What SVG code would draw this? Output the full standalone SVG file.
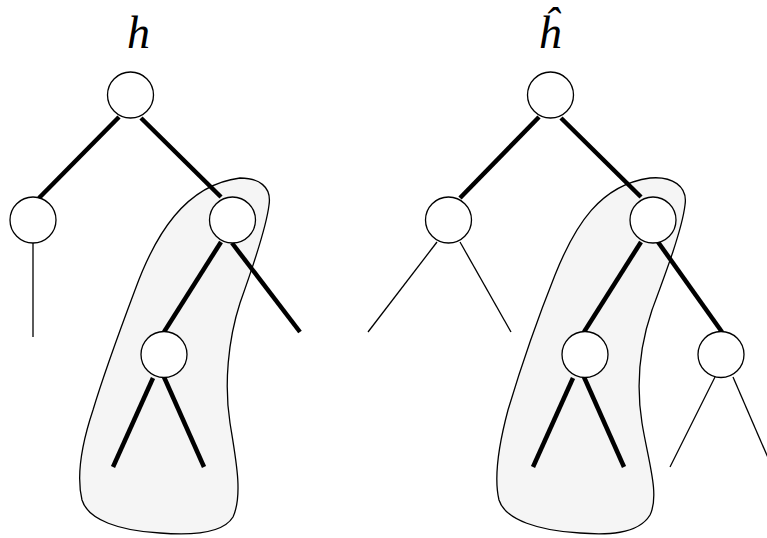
<svg xmlns="http://www.w3.org/2000/svg" width="767" height="538" viewBox="0 0 767 538">
<style>
.blob{fill:#f5f5f5;stroke:#000;stroke-width:1.3}
.node{fill:#fff;stroke:#000;stroke-width:1.3}
.thick{stroke:#000;stroke-width:4.5;fill:none}
.thin{stroke:#000;stroke-width:1.3;fill:none}
.lbl{font-family:"Liberation Serif","DejaVu Serif",serif;font-style:italic;font-size:46px;fill:#000}
</style>
<rect width="767" height="538" fill="#fff"/>
<g id="blob-left"><path class="blob" d="M 240 178 C 258 178, 272 186, 269 205 C 266 230, 250 275, 240 303 C 228 340, 224 385, 230 423 C 236 460, 243 495, 233 517 C 222 535, 185 535, 160 533 C 120 531, 88 520, 82 500 C 76 475, 83 440, 93 410 C 105 370, 120 330, 135 290 C 155 235, 185 185, 240 178 Z"/></g>
<g id="blob-right"><path class="blob" d="M 650 178 C 672 176, 688 186, 685 205 C 682 230, 665 275, 652 310 C 640 345, 636 385, 642 423 C 648 460, 660 495, 650 515 C 638 535, 605 535, 580 533 C 540 531, 505 520, 499 500 C 493 475, 500 440, 508 410 C 520 370, 537 320, 555 275 C 575 225, 600 185, 650 178 Z"/></g>
<g id="connectors">
<line class="thick" x1="119" y1="117" x2="39" y2="198"/>
<line class="thick" x1="141" y1="118" x2="221" y2="197"/>
<line class="thin" x1="33" y1="243" x2="33" y2="337"/>
<line class="thick" x1="221" y1="242" x2="164" y2="332"/>
<line class="thick" x1="232" y1="243" x2="300" y2="332"/>
<line class="thick" x1="153" y1="378" x2="113" y2="467"/>
<line class="thick" x1="164" y1="377" x2="204" y2="467"/>
<line class="thick" x1="539" y1="117" x2="460" y2="198"/>
<line class="thick" x1="561" y1="118" x2="641" y2="197"/>
<line class="thin" x1="437" y1="242" x2="368" y2="332"/>
<line class="thin" x1="460" y1="242" x2="511" y2="332"/>
<line class="thick" x1="641" y1="242" x2="584" y2="332"/>
<line class="thick" x1="658" y1="242" x2="722" y2="332"/>
<line class="thick" x1="573" y1="378" x2="533" y2="467"/>
<line class="thick" x1="584" y1="377" x2="624" y2="467"/>
<line class="thin" x1="715" y1="377" x2="670" y2="467"/>
<line class="thin" x1="733" y1="377" x2="772" y2="467"/>
</g>
<g id="n-root-l"><circle class="node" cx="130.5" cy="95" r="23"/></g>
<g id="n-l-l"><circle class="node" cx="33" cy="220" r="23"/></g>
<g id="n-l-r"><circle class="node" cx="232.5" cy="220" r="23"/></g>
<g id="n-l-rl"><circle class="node" cx="164" cy="354.5" r="23"/></g>
<g id="n-root-r"><circle class="node" cx="550.5" cy="95" r="23"/></g>
<g id="n-r-l"><circle class="node" cx="448.5" cy="220" r="23"/></g>
<g id="n-r-r"><circle class="node" cx="653" cy="220" r="23"/></g>
<g id="n-r-rl"><circle class="node" cx="585" cy="354.5" r="23"/></g>
<g id="n-r-rr"><circle class="node" cx="721" cy="354.5" r="23"/></g>
<g id="label-h"><text class="lbl" x="127" y="48">h</text></g>
<g id="label-hhat"><text class="lbl" x="538" y="48">ĥ</text></g>
</svg>
